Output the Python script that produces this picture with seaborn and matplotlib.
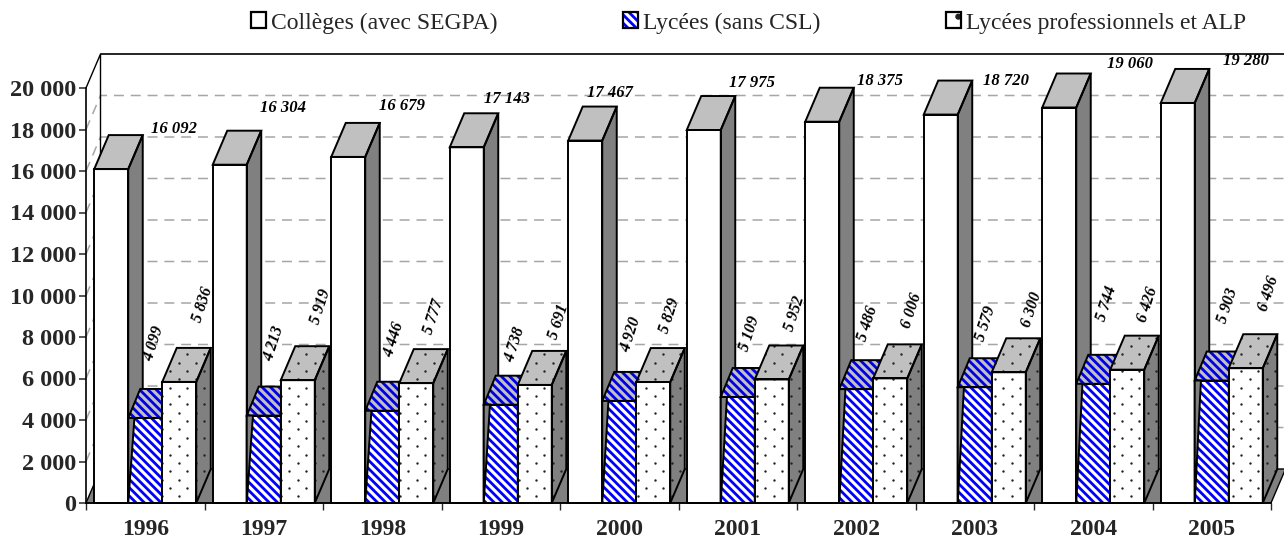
import numpy as np
import pandas as pd
import seaborn as sns
import matplotlib.pyplot as plt
from matplotlib.legend_handler import HandlerTuple
from matplotlib.patches import Patch, Polygon
from matplotlib.transforms import IdentityTransform

years = ["1996", "1997", "1998", "1999", "2000", "2001", "2002", "2003", "2004", "2005"]
colleges = [16092, 16304, 16679, 17143, 17467, 17975, 18375, 18720, 19060, 19280]
lycees = [4099, 4213, 4446, 4738, 4920, 5109, 5486, 5579, 5744, 5903]
lp = [5836, 5919, 5777, 5691, 5829, 5952, 6006, 6300, 6426, 6496]
series_names = ["Collèges (avec SEGPA)", "Lycées (sans CSL)", "Lycées professionnels et ALP"]
y_ticks = list(range(0, 20001, 2000))
y_labels = ["0", "2 000", "4 000", "6 000", "8 000", "10 000", "12 000", "14 000", "16 000", "18 000", "20 000"]

# where the original put its value labels, pixels from the top centre of each bar
college_offsets = [(62.5, 39.7), (53.3, 56.4), (53.5, 51), (40, 48.3), (24.5, 47.6),
                   (48, 47), (57.5, 40.7), (65, 33.6), (70.5, 43.2), (68, 42.3)]
lycee_offsets = [(8.75, 74), (10.25, 72.3), (11.75, 71.4), (14.25, 59.7), (11.45, 66.6),
                 (12.25, 63.7), (12, 65.2), (11, 63.9), (13.5, 80.5), (16.5, 74.5)]
lp_offsets = [(23, 77.6), (23, 73.5), (17, 66.4), (23.5, 63.2), (16, 66),
              (23.25, 66.2), (21.5, 67.7), (23, 63), (20, 64.7), (22.5, 74.2)]

W, H = 1284, 538
X0, X1, Y0, Y20 = 86, 1271, 503, 88
DX = 14.5 / 118.5   # depth in category units
DY = 34 / 415 * 20000  # depth in data units
GREY_TOP = "#c0c0c0"
GREY_SIDE = "#808080"
LW = 1.4

sns.set_style("white")
plt.rcParams["font.family"] = ["Liberation Serif", "DejaVu Serif"]
plt.rcParams["hatch.linewidth"] = 2.0

df = pd.DataFrame({
    "annee": years * 3,
    "effectif": colleges + lycees + lp,
    "type": np.repeat(series_names, len(years)),
})

fig = plt.figure(figsize=(W / 100, H / 100), dpi=100)
ax = fig.add_axes([X0 / W, (H - Y0) / H, (X1 - X0) / W, (Y0 - Y20) / H])
sns.barplot(data=df, x="annee", y="effectif", hue="type", order=years, hue_order=series_names,
            palette=["white"] * 3, width=0.861, gap=0, saturation=1, legend=False, ax=ax, zorder=3)
ax.set_xlim(-0.5, 9.5)
ax.set_ylim(0, 20000)
ax.set_xlabel("")
ax.set_ylabel("")

# back wall, floor and dashed grid
ax.add_patch(Polygon([(-0.5, 0), (-0.5 + DX, DY), (9.5 + DX, DY), (9.5, 0)], closed=True,
                     facecolor=GREY_SIDE, edgecolor="black", lw=1.0, clip_on=False, zorder=1))
for v in y_ticks[1:-1]:
    ax.plot([-0.5, -0.5 + DX, 9.5 + DX], [v, v + DY, v + DY], color="#a6a6a6", lw=1.1,
            dashes=(6.5, 4.5), clip_on=False, zorder=1)
ax.plot([-0.5, -0.5 + DX, -0.5 + DX], [20000, 20000 + DY, DY], color="black", lw=1.0, clip_on=False, zorder=2)
ax.plot([-0.5 + DX, 9.5 + DX], [20000 + DY, 20000 + DY], color="black", lw=1.2, clip_on=False, zorder=2)

# dots for the third series: offset rows, so a plain hatch does not fit
gx, gy = np.meshgrid(np.arange(0, W, 17.0), np.arange(0, H, 8.35))
gx = gx + 8.5 * (np.arange(gx.shape[0])[:, None] % 2)


def dotted(patch, z, color="#222222"):
    sc = ax.scatter(gx.ravel(), gy.ravel(), s=3.0, color=color, linewidths=0, transform=IdentityTransform(), zorder=z)
    sc.set_clip_path(patch)


def box(rect, z, hatch=None, dx=DX, dy=DY):
    x, w, v = rect.get_x(), rect.get_width(), rect.get_height()
    side = [(x + w, 0), (x + w + dx, dy), (x + w + dx, v + dy), (x + w, v)]
    top = [(x, v), (x + dx, v + dy), (x + w + dx, v + dy), (x + w, v)]
    faces = []
    for pts, col in ((side, GREY_SIDE), (top, GREY_TOP)):
        faces.append(ax.add_patch(Polygon(pts, closed=True, facecolor=col, edgecolor="none", zorder=z, clip_on=False)))
    rect.set_zorder(z + 0.2)
    rect.set_facecolor("white")
    rect.set_edgecolor("none")
    rect.set_clip_on(False)
    if hatch == "stripes":
        ax.add_patch(Polygon(top, closed=True, facecolor="none", edgecolor="#0000e6", hatch="\\\\\\\\",
                             lw=0, zorder=z + 0.05, clip_on=False))
        rect.set_hatch("\\\\\\\\")
        rect.set_edgecolor("#0000ff")
        rect.set_linewidth(0)
    if hatch == "dots":
        for f in faces:
            dotted(f, z + 0.25)
        dotted(rect, z + 0.25)
    for pts in (side, top, [(x, 0), (x, v), (x + w, v), (x + w, 0)]):
        ax.add_patch(Polygon(pts, closed=True, facecolor="none", edgecolor="black", lw=LW, zorder=z + 0.3,
                             clip_on=False, joinstyle="miter"))


for rect in ax.containers[0]:
    box(rect, 3)
for rect in ax.containers[1]:
    # lycee boxes are shallower than the others in the original
    box(rect, 4, "stripes", dx=12 / 118.5, dy=29 / 415 * 20000)
    # the college side face bites into the front of the lycee bar
    x, v = rect.get_x(), rect.get_height()
    ax.add_patch(Polygon([(x, 0), (x + 6.2 / 118.5, v), (x, v)], closed=True, facecolor=GREY_SIDE,
                         edgecolor="black", lw=LW, zorder=4.4, clip_on=False))
for rect in ax.containers[2]:
    box(rect, 5, "dots")

# value labels
label_font = dict(fontweight="bold", fontstyle="italic", color="black", zorder=8, annotation_clip=False)
for container, values, offsets, angle, size in ((ax.containers[0], colleges, college_offsets, 0, 12),
                                                (ax.containers[1], lycees, lycee_offsets, 72, 11.5),
                                                (ax.containers[2], lp, lp_offsets, 72, 11.5)):
    for rect, val, (ox, oy) in zip(container, values, offsets):
        ax.annotate(f"{val:,}".replace(",", " "), (rect.get_x() + rect.get_width() / 2, val),
                    xytext=(ox * 0.72, oy * 0.72), textcoords="offset points", ha="center", va="center",
                    rotation=angle, rotation_mode="anchor", fontsize=size, **label_font)

# axes
sns.despine(ax=ax, top=True, right=True)
for s in ("left", "bottom"):
    ax.spines[s].set_linewidth(1.2)
    ax.spines[s].set_color("black")
    ax.spines[s].set_zorder(7)
ax.set_yticks(y_ticks, y_labels)
ax.set_xticks(np.arange(-0.5, 10), minor=True)
ax.set_xticks(range(10), years)
ax.tick_params(axis="y", left=True, length=5, width=1.1, labelsize=17.5, pad=2)
ax.tick_params(axis="x", which="major", bottom=False, labelsize=17, pad=8)
ax.tick_params(axis="x", which="minor", bottom=True, length=5, width=1.0)
for t in ax.get_xticklabels() + ax.get_yticklabels():
    t.set_fontweight("bold")

outline = Patch(facecolor="none", edgecolor="black", lw=1.6)
handles = [
    (Patch(facecolor="white", edgecolor="none"), outline),
    (Patch(facecolor="white", edgecolor="#0000ff", hatch="\\\\\\\\", lw=0), outline),
    (Patch(facecolor="white", edgecolor="#222222", hatch=".", lw=0), outline),
]
fig.legend(handles, series_names, ncol=3, loc="center", bbox_to_anchor=(0.583, 1 - 23 / H), frameon=False,
           fontsize=17, handlelength=0.64, handleheight=0.64, handletextpad=0.22, columnspacing=5.3,
           borderpad=0, borderaxespad=0, handler_map={tuple: HandlerTuple(ndivide=1, pad=0)})

fig.savefig("out.png", dpi=100)
